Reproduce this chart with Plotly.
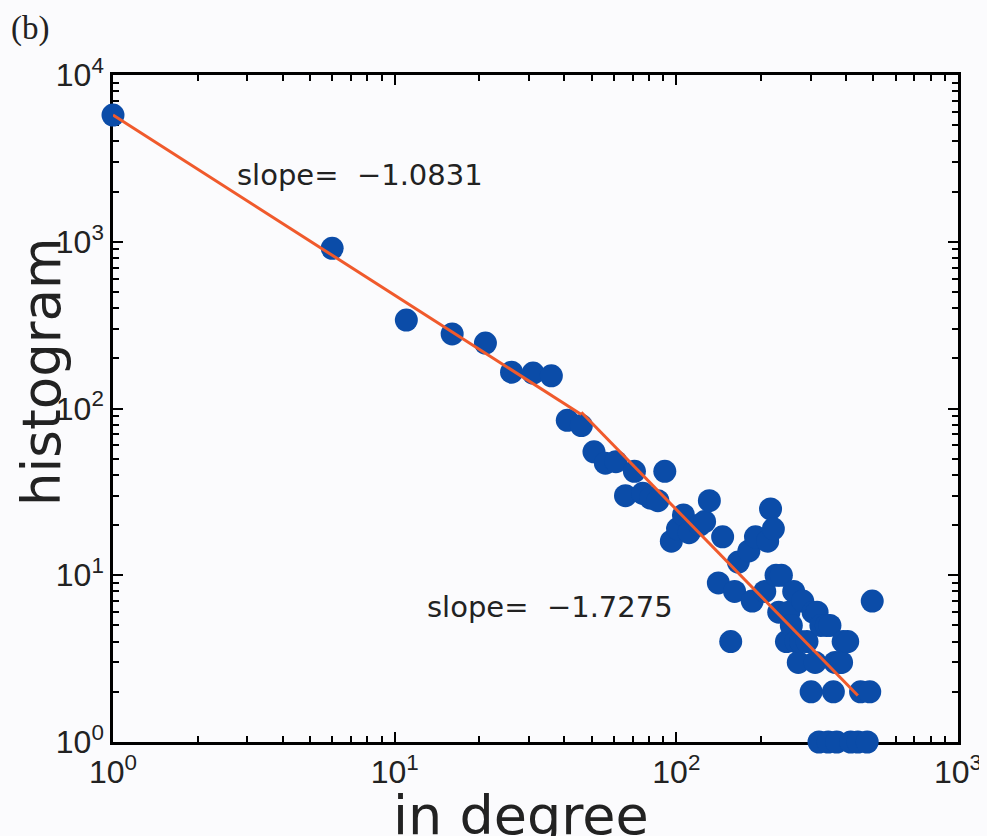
import plotly.graph_objects as go

# ---- data ----
in_degree = [1, 6, 11, 16, 21, 26, 31, 36, 41, 46, 51, 56, 61, 66, 71, 76, 81, 86, 91, 96,
             101, 106, 111, 121, 126, 131, 141, 146, 156, 161, 166, 181, 186, 191,
             206, 211, 216, 221, 226, 231, 236, 246, 251, 256, 261, 266, 271, 276, 281,
             291, 301, 306, 311, 316, 321, 326, 341, 346, 351, 361, 366, 371, 381, 386,
             391, 406, 416, 441, 451, 476, 486, 496]
histogram = [5750, 914, 339, 280, 247, 165, 163, 157, 85, 79, 55, 47, 48, 30, 42, 31, 29, 28, 42, 16,
             19, 23, 18, 20, 21, 28, 9, 17, 4, 8, 12, 14, 7, 17,
             8, 16, 25, 19, 10, 6, 10, 4, 6, 5, 8, 4, 3, 4, 7,
             4, 2, 6, 3, 6, 1, 5, 5, 1, 5, 2, 3, 1, 3, 3,
             4, 4, 1, 1, 2, 1, 2, 7]

fit1_x = [1, 46]
fit1_y = [5750, 92]
fit2_x = [46, 441]
fit2_y = [95, 1.9]

x_tick_vals = [1, 10, 100, 1000]
x_tick_text = ["10<sup>0</sup>", "10<sup>1</sup>", "10<sup>2</sup>", "10<sup>3</sup>"]
y_tick_vals = [1, 10, 100, 1000, 10000]
y_tick_text = ["10<sup>0</sup>", "10<sup>1</sup>", "10<sup>2</sup>", "10<sup>3</sup>", "10<sup>4</sup>"]

minor_x = [m * d for d in (1, 10, 100) for m in range(2, 10)]
minor_y = [m * d for d in (1, 10, 100, 1000) for m in range(2, 10)]

BLUE = "#0b4ca8"
ORANGE = "#f05a2c"
BG = "#fbfbfd"
TXT = "#222222"

# page has an 8px body margin; figure spans page px 8..987 x 8..836
OFF = 8
W, H = 987 - OFF, 836 - OFF
# plot area in page pixels
L, R, T, B = 113, 958, 75, 742
PW, PH = R - L, B - T


def px(xp):
    return (xp - L) / PW


def py(yp):
    return (B - yp) / PH


fig = go.Figure()
fig.add_trace(go.Scatter(x=in_degree, y=histogram, mode="markers",
                         marker=dict(size=23, color=BLUE, line=dict(width=0)),
                         cliponaxis=False, showlegend=False))
fig.add_trace(go.Scatter(x=fit1_x, y=fit1_y, mode="lines",
                         line=dict(color=ORANGE, width=3), cliponaxis=False, showlegend=False))
fig.add_trace(go.Scatter(x=fit2_x, y=fit2_y, mode="lines",
                         line=dict(color=ORANGE, width=3), cliponaxis=False, showlegend=False))

axis_common = dict(type="log", showgrid=False, zeroline=False, showline=True,
                   linecolor="black", linewidth=2.5, mirror="allticks",
                   ticks="inside", ticklen=10, tickwidth=2, tickcolor="black",
                   layer="below traces", automargin=False,
                   tickfont=dict(family="Liberation Sans", size=32, color=TXT))

fig.update_xaxes(**axis_common, range=[0, 3], tickmode="array",
                 tickvals=x_tick_vals, ticktext=x_tick_text,
                 minor=dict(tickmode="array", tickvals=minor_x, ticks="inside",
                            ticklen=6, tickwidth=2, tickcolor="black"))
fig.update_yaxes(**axis_common, range=[0, 4], tickmode="array",
                 tickvals=y_tick_vals, ticktext=y_tick_text,
                 minor=dict(tickmode="array", tickvals=minor_y, ticks="inside",
                            ticklen=6, tickwidth=2, tickcolor="black"))

# axis titles
fig.add_annotation(x=px(521), y=py(782), xref="paper", yref="paper", text="in degree",
                   showarrow=False, xanchor="center", yanchor="top",
                   font=dict(family="DejaVu Sans", size=54, color=TXT))
fig.add_annotation(x=px(41), y=py(372), xref="paper", yref="paper", text="histogram",
                   showarrow=False, xanchor="center", yanchor="middle", textangle=-90,
                   font=dict(family="DejaVu Sans", size=53, color=TXT))

# slope labels
fig.add_annotation(x=0.433, y=3.40, xref="x", yref="y", text="slope=  \u22121.0831",
                   showarrow=False, xanchor="left", yanchor="middle",
                   font=dict(family="DejaVu Sans", size=29, color=TXT))
fig.add_annotation(x=1.1076, y=0.81, xref="x", yref="y", text="slope=  \u22121.7275",
                   showarrow=False, xanchor="left", yanchor="middle",
                   font=dict(family="DejaVu Sans", size=29, color=TXT))
# panel label
fig.add_annotation(x=px(9), y=py(8), xref="paper", yref="paper", text="(b)",
                   showarrow=False, xanchor="left", yanchor="top",
                   font=dict(family="Liberation Serif", size=33, color=TXT))

fig.update_layout(width=W, height=H,
                  margin=dict(l=L - OFF, r=987 - R, t=T - OFF, b=836 - B, autoexpand=False),
                  paper_bgcolor=BG, plot_bgcolor=BG)

fig.write_html("out.html",
               post_script="document.body.style.backgroundColor='%s';" % BG)
